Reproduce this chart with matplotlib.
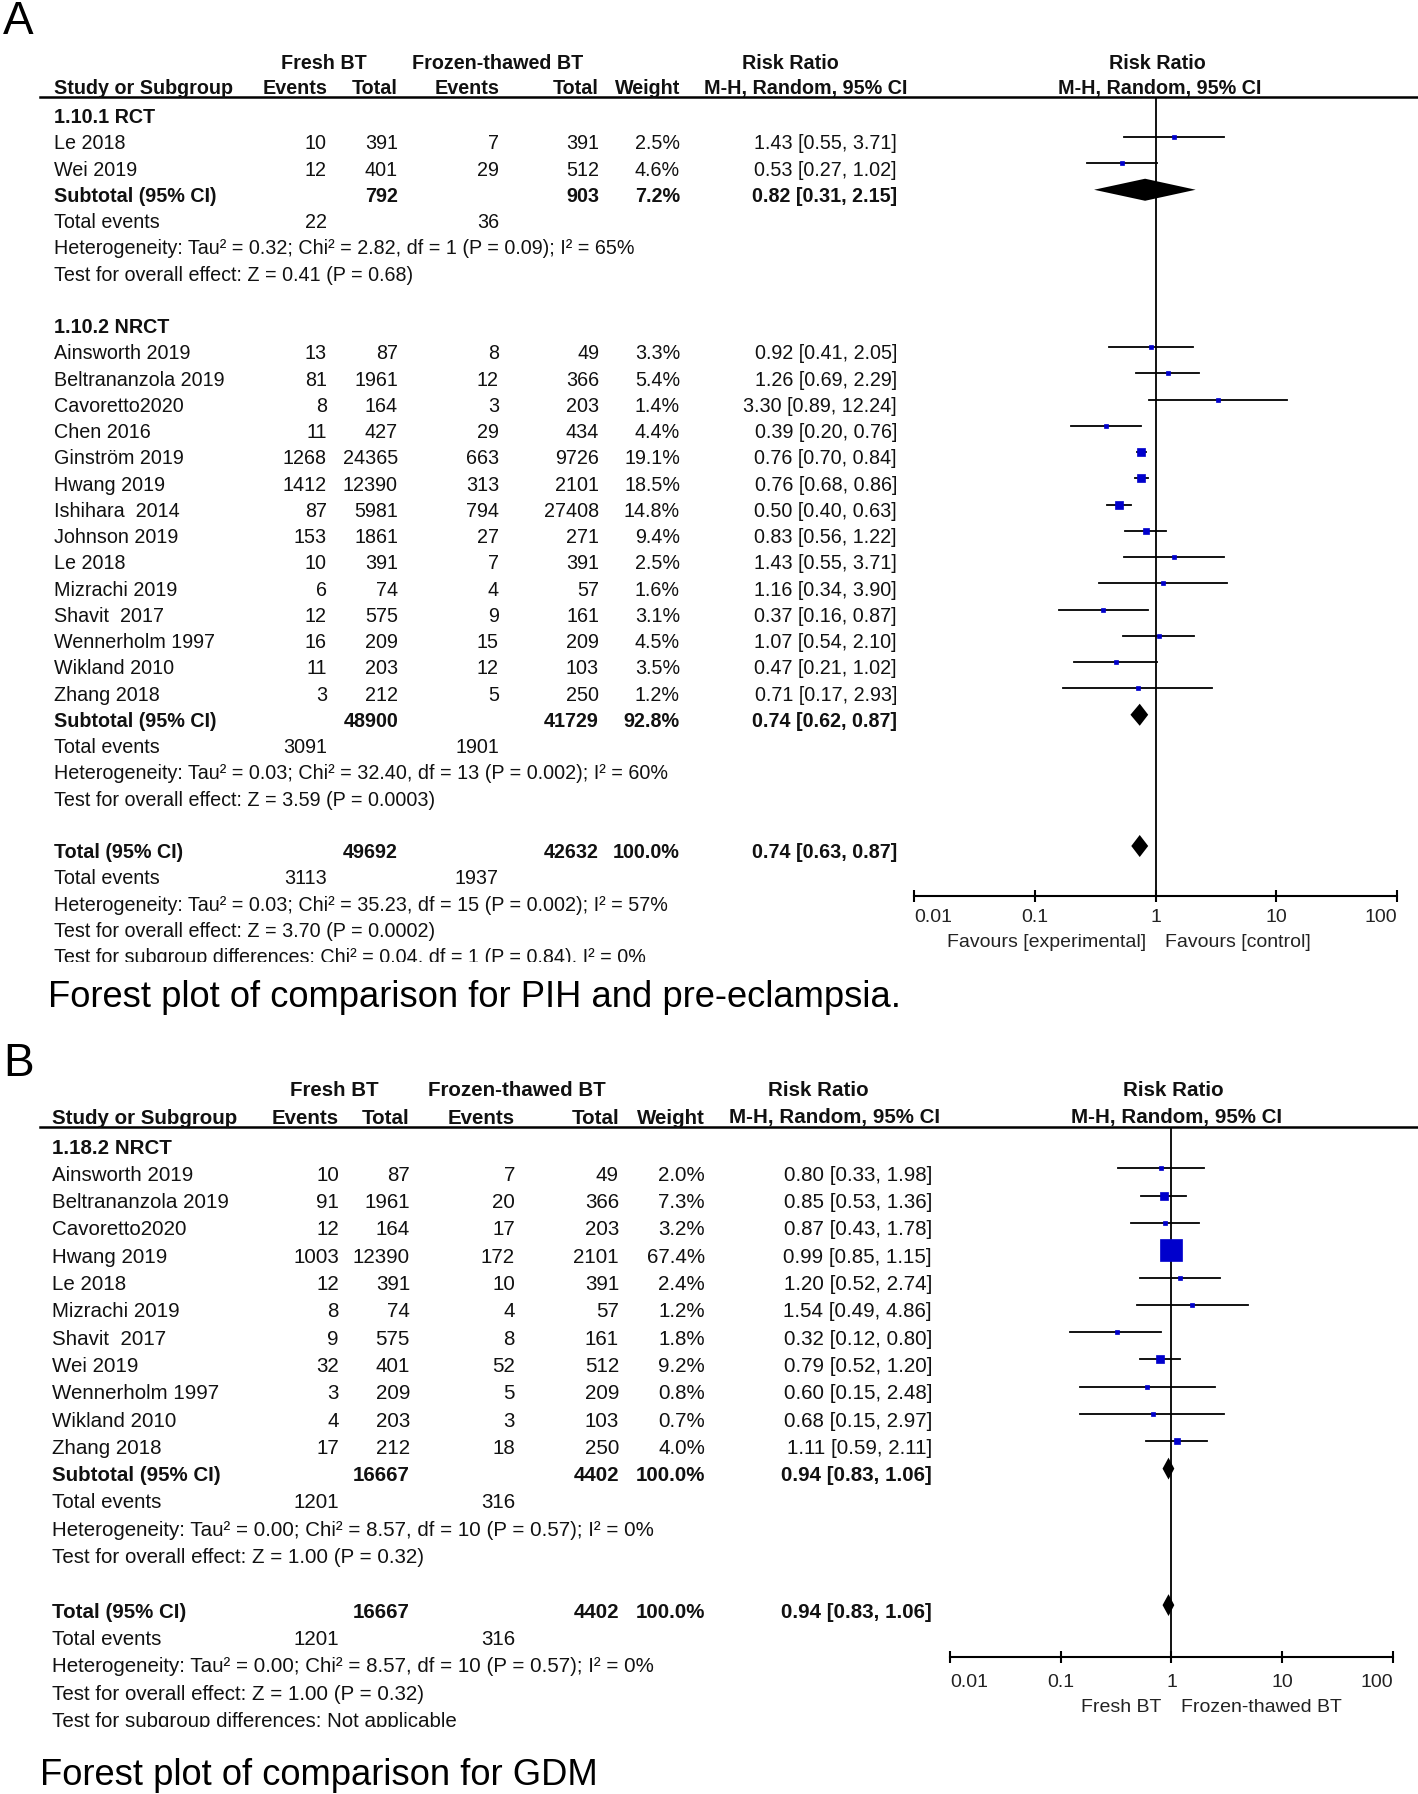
import matplotlib
matplotlib.use('Agg')
import matplotlib.pyplot as plt
from matplotlib.ticker import NullLocator

plt.rcParams['font.family'] = ['Liberation Sans', 'DejaVu Sans']

W, H = 1418, 1794
BLUE = '#0000cc'

# ---- panel A: PIH and pre-eclampsia ----
a_study = ['Le 2018', 'Wei 2019',
           'Ainsworth 2019', 'Beltrananzola 2019', 'Cavoretto2020', 'Chen 2016',
           'Ginström 2019', 'Hwang 2019', 'Ishihara  2014', 'Johnson 2019', 'Le 2018',
           'Mizrachi 2019', 'Shavit  2017', 'Wennerholm 1997', 'Wikland 2010', 'Zhang 2018']
a_group = [0, 0] + [1] * 14
a_fresh_ev = [10, 12, 13, 81, 8, 11, 1268, 1412, 87, 153, 10, 6, 12, 16, 11, 3]
a_fresh_n = [391, 401, 87, 1961, 164, 427, 24365, 12390, 5981, 1861, 391, 74, 575, 209, 203, 212]
a_froz_ev = [7, 29, 8, 12, 3, 29, 663, 313, 794, 27, 7, 4, 9, 15, 12, 5]
a_froz_n = [391, 512, 49, 366, 203, 434, 9726, 2101, 27408, 271, 391, 57, 161, 209, 103, 250]
a_weight = [2.5, 4.6, 3.3, 5.4, 1.4, 4.4, 19.1, 18.5, 14.8, 9.4, 2.5, 1.6, 3.1, 4.5, 3.5, 1.2]
a_rr = [1.43, 0.53, 0.92, 1.26, 3.30, 0.39, 0.76, 0.76, 0.50, 0.83, 1.43, 1.16, 0.37, 1.07, 0.47, 0.71]
a_lo = [0.55, 0.27, 0.41, 0.69, 0.89, 0.20, 0.70, 0.68, 0.40, 0.56, 0.55, 0.34, 0.16, 0.54, 0.21, 0.17]
a_hi = [3.71, 1.02, 2.05, 2.29, 12.24, 0.76, 0.84, 0.86, 0.63, 1.22, 3.71, 3.90, 0.87, 2.10, 1.02, 2.93]

a_sub_label = ['1.10.1 RCT', '1.10.2 NRCT']
a_sub_fresh_n = [792, 48900]
a_sub_froz_n = [903, 41729]
a_sub_weight = [7.2, 92.8]
a_sub_rr = [0.82, 0.74]
a_sub_lo = [0.31, 0.62]
a_sub_hi = [2.15, 0.87]
a_sub_fresh_ev = [22, 3091]
a_sub_froz_ev = [36, 1901]
a_sub_het = ['Heterogeneity: Tau² = 0.32; Chi² = 2.82, df = 1 (P = 0.09); I² = 65%',
             'Heterogeneity: Tau² = 0.03; Chi² = 32.40, df = 13 (P = 0.002); I² = 60%']
a_sub_z = ['Test for overall effect: Z = 0.41 (P = 0.68)',
           'Test for overall effect: Z = 3.59 (P = 0.0003)']

a_tot_n = [49692, 42632]
a_tot_ev = [3113, 1937]
a_tot_rr = [0.74, 0.63, 0.87]
a_tot_het = 'Heterogeneity: Tau² = 0.03; Chi² = 35.23, df = 15 (P = 0.002); I² = 57%'
a_tot_z = 'Test for overall effect: Z = 3.70 (P = 0.0002)'
a_diff = 'Test for subgroup differences: Chi² = 0.04, df = 1 (P = 0.84), I² = 0%'

# ---- panel B: GDM ----
b_study = ['Ainsworth 2019', 'Beltrananzola 2019', 'Cavoretto2020', 'Hwang 2019', 'Le 2018',
           'Mizrachi 2019', 'Shavit  2017', 'Wei 2019', 'Wennerholm 1997', 'Wikland 2010',
           'Zhang 2018']
b_group = [0] * 11
b_fresh_ev = [10, 91, 12, 1003, 12, 8, 9, 32, 3, 4, 17]
b_fresh_n = [87, 1961, 164, 12390, 391, 74, 575, 401, 209, 203, 212]
b_froz_ev = [7, 20, 17, 172, 10, 4, 8, 52, 5, 3, 18]
b_froz_n = [49, 366, 203, 2101, 391, 57, 161, 512, 209, 103, 250]
b_weight = [2.0, 7.3, 3.2, 67.4, 2.4, 1.2, 1.8, 9.2, 0.8, 0.7, 4.0]
b_rr = [0.80, 0.85, 0.87, 0.99, 1.20, 1.54, 0.32, 0.79, 0.60, 0.68, 1.11]
b_lo = [0.33, 0.53, 0.43, 0.85, 0.52, 0.49, 0.12, 0.52, 0.15, 0.15, 0.59]
b_hi = [1.98, 1.36, 1.78, 1.15, 2.74, 4.86, 0.80, 1.20, 2.48, 2.97, 2.11]

b_sub_label = ['1.18.2 NRCT']
b_sub_fresh_n = [16667]
b_sub_froz_n = [4402]
b_sub_weight = [100.0]
b_sub_rr = [0.94]
b_sub_lo = [0.83]
b_sub_hi = [1.06]
b_sub_fresh_ev = [1201]
b_sub_froz_ev = [316]
b_sub_het = ['Heterogeneity: Tau² = 0.00; Chi² = 8.57, df = 10 (P = 0.57); I² = 0%']
b_sub_z = ['Test for overall effect: Z = 1.00 (P = 0.32)']

b_tot_n = [16667, 4402]
b_tot_ev = [1201, 316]
b_tot_rr = [0.94, 0.83, 1.06]
b_tot_het = 'Heterogeneity: Tau² = 0.00; Chi² = 8.57, df = 10 (P = 0.57); I² = 0%'
b_tot_z = 'Test for overall effect: Z = 1.00 (P = 0.32)'
b_diff = 'Test for subgroup differences: Not applicable'

axis_ticks = [0.01, 0.1, 1, 10, 100]
axis_labels = ['0.01', '0.1', '1', '10', '100']


def frac(x0, y0, x1, y1):
    return [x0 / W, 1 - y1 / H, (x1 - x0) / W, (y1 - y0) / H]


def ci_text(rr, lo, hi):
    return '%.2f [%.2f, %.2f]' % (rr, lo, hi)


def draw_panel(fig, p, L):
    def row_px(px):
        return (px - L['row0']) / L['step']

    tax = fig.add_axes(frac(0, L['top'], W, L['clip']))
    tax.set_xlim(0, W)
    tax.set_ylim(row_px(L['clip']), row_px(L['top']))
    tax.axis('off')

    fax = fig.add_axes(frac(L['fx0'], L['line_y'], L['fx1'], L['axis_y']))
    fax.patch.set_visible(False)
    fax.set_xscale('log')
    fax.set_xlim(axis_ticks[0], axis_ticks[-1])
    fax.set_ylim(row_px(L['axis_y']), row_px(L['line_y']))
    for s in ['top', 'left', 'right']:
        fax.spines[s].set_visible(False)
    fax.spines['bottom'].set_linewidth(1.5)
    fax.set_yticks([])
    fax.set_xticks(axis_ticks)
    fax.set_xticklabels(axis_labels)
    fax.xaxis.set_minor_locator(NullLocator())
    fax.tick_params(axis='x', direction='inout', length=9, width=1.5, labelsize=14,
                    pad=L['tick_pad'], labelcolor='#222222')
    tl = fax.get_xticklabels()
    tl[0].set_ha('left')
    tl[-1].set_ha('right')
    fax.axvline(1, color='black', lw=1.3, zorder=1)
    fax.annotate(L['favours'][0], xy=(1, 0), xycoords=('data', 'axes fraction'),
                 xytext=(-L['fav_dx'], -L['fav_dy']), textcoords='offset points',
                 ha='right', va='center', fontsize=14, color='#222222')
    fax.annotate(L['favours'][1], xy=(1, 0), xycoords=('data', 'axes fraction'),
                 xytext=(L['fav_dx'], -L['fav_dy']), textcoords='offset points',
                 ha='left', va='center', fontsize=14, color='#222222')

    c = L['cols']
    nx = L['name_x']

    def txt(x, r, s, ha='left', bold=False):
        tax.text(x, r, s, ha=ha, va='center', fontsize=L['fs'],
                 fontweight='bold' if bold else 'normal', color='#111111', clip_on=True)

    def study_mark(r, rr, lo, hi, w):
        y = r + L['dy'] / L['step']
        fax.plot([lo, hi], [y, y], color='black', lw=1.3, zorder=2)
        side = max(L['msmin'], L['msk'] * w ** 0.5)
        fax.plot([rr], [y], marker='s', ms=side / 1.389, color=BLUE, mec=BLUE,
                 mew=0.5, zorder=3, clip_on=False)

    def diamond(r, rr, lo, hi):
        y = r + L['dy'] / L['step']
        h = L['dh']
        fax.fill([lo, rr, hi, rr], [y, y - h, y, y + h], color='black', lw=0, zorder=3)

    # headers
    r1 = row_px(L['hdr1_y'])
    r2 = row_px(L['hdr2_y'])
    txt(L['hdr_fresh'], r1, 'Fresh BT', 'center', True)
    txt(L['hdr_froz'], r1, 'Frozen-thawed BT', 'center', True)
    txt(L['hdr_rr'], r1, 'Risk Ratio', 'center', True)
    txt(L['plot_rr'], r1, 'Risk Ratio', 'center', True)
    txt(nx, r2, 'Study or Subgroup', 'left', True)
    txt(c[0], r2, 'Events', 'right', True)
    txt(c[1], r2, 'Total', 'right', True)
    txt(c[2], r2, 'Events', 'right', True)
    txt(c[3], r2, 'Total', 'right', True)
    txt(c[4], r2, 'Weight', 'right', True)
    txt(L['hdr_mh'], r2, 'M-H, Random, 95% CI', 'center', True)
    txt(L['plot_mh'], r2, 'M-H, Random, 95% CI', 'center', True)
    tax.axhline(row_px(L['line_y']), xmin=L['line_x0'] / W, xmax=1, color='black', lw=1.8)

    r = 0
    for g, label in enumerate(p['sub_label']):
        txt(nx, r, label, bold=True)
        r += 1
        for i, gi in enumerate(p['group']):
            if gi != g:
                continue
            txt(nx, r, p['study'][i])
            txt(c[0], r, str(p['fresh_ev'][i]), 'right')
            txt(c[1], r, str(p['fresh_n'][i]), 'right')
            txt(c[2], r, str(p['froz_ev'][i]), 'right')
            txt(c[3], r, str(p['froz_n'][i]), 'right')
            txt(c[4], r, '%.1f%%' % p['weight'][i], 'right')
            txt(c[5], r, ci_text(p['rr'][i], p['lo'][i], p['hi'][i]), 'right')
            study_mark(r, p['rr'][i], p['lo'][i], p['hi'][i], p['weight'][i])
            r += 1
        txt(nx, r, 'Subtotal (95% CI)', bold=True)
        txt(c[1], r, str(p['sub_fresh_n'][g]), 'right', True)
        txt(c[3], r, str(p['sub_froz_n'][g]), 'right', True)
        txt(c[4], r, '%.1f%%' % p['sub_weight'][g], 'right', True)
        txt(c[5], r, ci_text(p['sub_rr'][g], p['sub_lo'][g], p['sub_hi'][g]), 'right', True)
        diamond(r, p['sub_rr'][g], p['sub_lo'][g], p['sub_hi'][g])
        r += 1
        txt(nx, r, 'Total events')
        txt(c[0], r, str(p['sub_fresh_ev'][g]), 'right')
        txt(c[2], r, str(p['sub_froz_ev'][g]), 'right')
        r += 1
        txt(nx, r, p['sub_het'][g])
        r += 1
        txt(nx, r, p['sub_z'][g])
        r += 2

    txt(nx, r, 'Total (95% CI)', bold=True)
    txt(c[1], r, str(p['tot_n'][0]), 'right', True)
    txt(c[3], r, str(p['tot_n'][1]), 'right', True)
    txt(c[4], r, '100.0%', 'right', True)
    txt(c[5], r, ci_text(*p['tot_rr']), 'right', True)
    diamond(r, *p['tot_rr'])
    r += 1
    txt(nx, r, 'Total events')
    txt(c[0], r, str(p['tot_ev'][0]), 'right')
    txt(c[2], r, str(p['tot_ev'][1]), 'right')
    r += 1
    txt(nx, r, p['tot_het'])
    r += 1
    txt(nx, r, p['tot_z'])
    r += 1
    txt(nx, r, p['diff'])


panel_a = dict(study=a_study, group=a_group, fresh_ev=a_fresh_ev, fresh_n=a_fresh_n,
               froz_ev=a_froz_ev, froz_n=a_froz_n, weight=a_weight, rr=a_rr, lo=a_lo, hi=a_hi,
               sub_label=a_sub_label, sub_fresh_n=a_sub_fresh_n, sub_froz_n=a_sub_froz_n,
               sub_weight=a_sub_weight, sub_rr=a_sub_rr, sub_lo=a_sub_lo, sub_hi=a_sub_hi,
               sub_fresh_ev=a_sub_fresh_ev, sub_froz_ev=a_sub_froz_ev, sub_het=a_sub_het,
               sub_z=a_sub_z, tot_n=a_tot_n, tot_ev=a_tot_ev, tot_rr=a_tot_rr,
               tot_het=a_tot_het, tot_z=a_tot_z, diff=a_diff)
panel_b = dict(study=b_study, group=b_group, fresh_ev=b_fresh_ev, fresh_n=b_fresh_n,
               froz_ev=b_froz_ev, froz_n=b_froz_n, weight=b_weight, rr=b_rr, lo=b_lo, hi=b_hi,
               sub_label=b_sub_label, sub_fresh_n=b_sub_fresh_n, sub_froz_n=b_sub_froz_n,
               sub_weight=b_sub_weight, sub_rr=b_sub_rr, sub_lo=b_sub_lo, sub_hi=b_sub_hi,
               sub_fresh_ev=b_sub_fresh_ev, sub_froz_ev=b_sub_froz_ev, sub_het=b_sub_het,
               sub_z=b_sub_z, tot_n=b_tot_n, tot_ev=b_tot_ev, tot_rr=b_tot_rr,
               tot_het=b_tot_het, tot_z=b_tot_z, diff=b_diff)

layout_a = dict(row0=117.5, step=26.25, top=40, clip=962, line_y=97, axis_y=896,
                fx0=914, fx1=1397, name_x=54, cols=[327, 398, 499, 599, 680, 897],
                hdr1_y=63.5, hdr2_y=88.5, hdr_fresh=324, hdr_froz=498, hdr_rr=790, hdr_mh=806,
                plot_rr=1157, plot_mh=1160, line_x0=40, fs=14.2, msk=1.9, msmin=4.0,
                dy=-6.5, dh=0.42, fav_dx=7, fav_dy=33.5, tick_pad=5,
                favours=('Favours [experimental]', 'Favours [control]'))
layout_b = dict(row0=1148, step=27.3, top=1075, clip=1727, line_y=1127, axis_y=1657,
                fx0=950, fx1=1393, name_x=52, cols=[339, 410, 515, 619, 705, 932],
                hdr1_y=1091, hdr2_y=1118, hdr_fresh=334, hdr_froz=517, hdr_rr=818, hdr_mh=835,
                plot_rr=1173, plot_mh=1177, line_x0=40, fs=14.8, msk=2.68, msmin=4.0,
                dy=-7.0, dh=0.4, fav_dx=7, fav_dy=36.5, tick_pad=8,
                favours=('Fresh BT', 'Frozen-thawed BT'))

fig = plt.figure(figsize=(W / 100, H / 100), dpi=100)
fig.patch.set_facecolor('white')

draw_panel(fig, panel_a, layout_a)
draw_panel(fig, panel_b, layout_b)

fig.text(3 / W, 1 - 22 / H, 'A', fontsize=33, va='center', ha='left')
fig.text(3 / W, 1 - 1064 / H, 'B', fontsize=33, va='center', ha='left')
fig.text(48 / W, 1 - 997 / H, 'Forest plot of comparison for PIH and pre-eclampsia.',
         fontsize=26.2, va='center', ha='left')
fig.text(40 / W, 1 - 1775 / H, 'Forest plot of comparison for GDM',
         fontsize=26.2, va='center', ha='left')

fig.savefig('out.png', dpi=100)
